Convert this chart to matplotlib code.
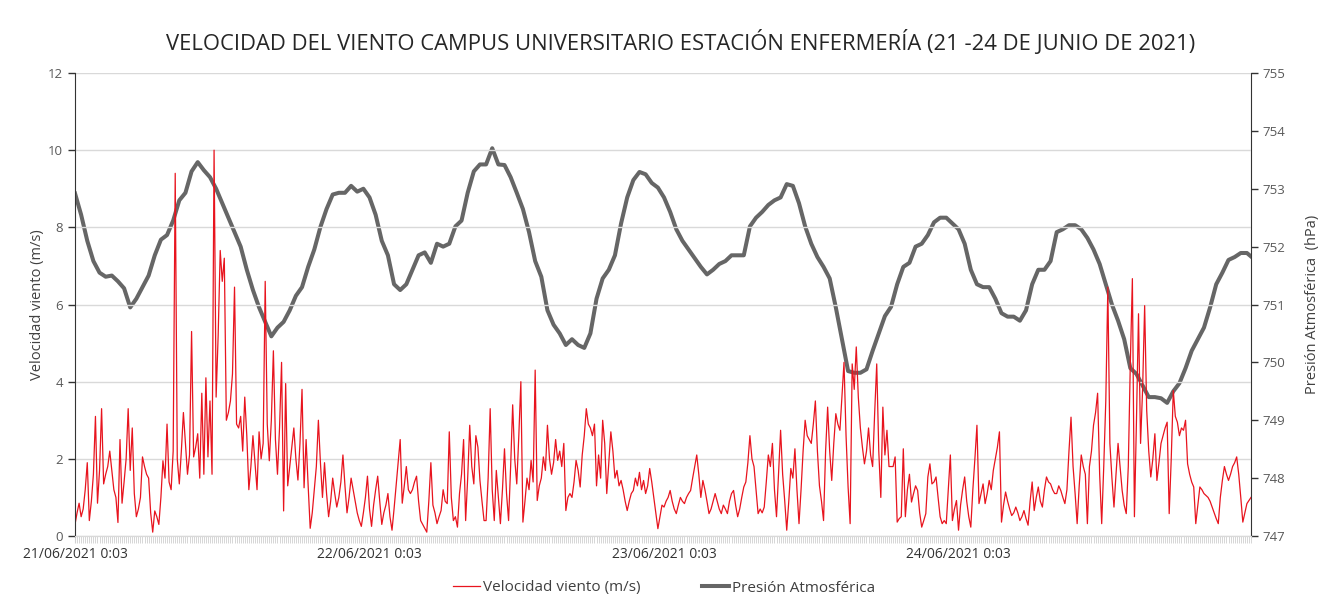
import matplotlib
matplotlib.use('Agg')
import matplotlib.pyplot as plt
import numpy as np
import pandas as pd

plt.rcParams['font.family'] = ['Open Sans', 'DejaVu Sans']

## Data
# wind speed (m/s), one value every 10 minutes, 144 values per day
wind_d21 = [0.3, 0.6, 0.85, 0.5, 0.7, 1.2, 1.9, 0.4, 0.9, 1.6, 3.1, 0.85,
            1.7, 3.3, 1.35, 1.6, 1.8, 2.2, 1.7, 1.2, 1.0, 0.35, 2.5, 0.85,
            1.4, 2.0, 3.3, 1.7, 2.8, 1.1, 0.5, 0.7, 1.0, 2.05, 1.8, 1.6,
            1.5, 0.6, 0.1, 0.65, 0.5, 0.3, 1.0, 1.95, 1.5, 2.9, 1.4, 1.2,
            2.2, 9.4, 2.0, 1.35, 2.2, 3.2, 2.4, 1.6, 2.1, 5.3, 2.05, 2.3,
            2.65, 1.5, 3.7, 1.6, 4.1, 2.05, 3.5, 1.6, 10.0, 3.6, 5.2, 7.4,
            6.6, 7.2, 3.0, 3.2, 3.5, 4.2, 6.45, 2.9, 2.8, 3.1, 2.2, 3.6,
            2.6, 1.2, 1.8, 2.6, 1.9, 1.2, 2.7, 2.0, 2.4, 6.6, 2.9, 1.95,
            3.0, 4.8, 2.5, 1.6, 2.8, 4.5, 0.65, 3.95, 1.3, 1.8, 2.3, 2.8,
            2.0, 1.45, 2.4, 3.8, 1.25, 2.5, 1.3, 0.2, 0.6, 1.2, 1.8, 3.0,
            1.9, 1.0, 1.9, 1.1, 0.5, 0.9, 1.5, 1.1, 0.75, 1.0, 1.4, 2.1,
            1.3, 0.6, 1.0, 1.5, 1.2, 0.9, 0.6, 0.4, 0.25, 0.6, 1.0, 1.55]
wind_d22 = [0.7, 0.25, 0.8, 1.2, 1.55, 0.9, 0.3, 0.6, 0.8, 1.1, 0.5, 0.15,
            0.7, 1.3, 1.9, 2.5, 0.85, 1.3, 1.8, 1.2, 1.1, 1.2, 1.4, 1.55,
            0.9, 0.4, 0.3, 0.2, 0.1, 0.9, 1.9, 0.8, 0.6, 0.32, 0.5, 0.66,
            1.2, 0.9, 0.84, 2.7, 1.0, 0.4, 0.5, 0.23, 1.1, 1.6, 2.5, 0.4,
            1.5, 2.87, 1.8, 1.35, 2.6, 2.3, 1.44, 0.9, 0.4, 0.4, 1.5, 3.3,
            1.2, 0.4, 1.7, 1.0, 0.32, 1.2, 2.26, 1.1, 0.4, 1.8, 3.4, 2.0,
            1.35, 2.6, 4.0, 0.36, 0.9, 1.5, 1.2, 1.96, 1.4, 4.3, 0.92, 1.3,
            1.5, 2.05, 1.7, 2.87, 2.0, 1.6, 1.9, 2.5, 1.96, 2.2, 1.8, 2.4,
            0.66, 1.0, 1.1, 1.0, 1.4, 1.96, 1.7, 1.27, 2.1, 2.6, 3.3, 2.9,
            2.8, 2.6, 2.9, 1.3, 2.1, 1.5, 3.0, 2.4, 1.1, 1.9, 2.7, 2.2,
            1.5, 1.7, 1.3, 1.44, 1.2, 0.9, 0.66, 0.9, 1.1, 1.18, 1.5, 1.3,
            1.65, 1.2, 1.44, 1.1, 1.3, 1.75, 1.4, 1.0, 0.6, 0.19, 0.5, 0.8]
wind_d23 = [0.75, 0.9, 1.0, 1.18, 0.9, 0.7, 0.58, 0.8, 1.0, 0.9, 0.84, 1.0,
            1.1, 1.18, 1.5, 1.8, 2.1, 1.6, 1.0, 1.44, 1.2, 0.9, 0.58, 0.7,
            0.9, 1.1, 0.9, 0.7, 0.58, 0.8, 0.7, 0.58, 0.9, 1.1, 1.18, 0.8,
            0.5, 0.7, 1.0, 1.27, 1.4, 1.9, 2.6, 2.0, 1.8, 1.2, 0.58, 0.7,
            0.6, 0.75, 1.4, 2.1, 1.8, 2.4, 1.2, 0.5, 1.6, 2.74, 1.6, 0.92,
            0.15, 0.9, 1.75, 1.5, 2.26, 1.2, 0.32, 1.2, 2.2, 3.0, 2.6, 2.5,
            2.4, 2.9, 3.5, 2.2, 1.3, 0.9, 0.4, 2.2, 3.34, 2.2, 1.44, 2.4,
            3.17, 2.9, 2.74, 3.6, 4.5, 2.6, 1.27, 0.32, 4.46, 3.8, 4.9, 3.6,
            2.8, 2.3, 1.87, 2.2, 2.8, 2.1, 1.8, 3.2, 4.46, 2.2, 1.0, 3.34,
            2.1, 2.74, 1.8, 1.8, 1.8, 2.05, 0.36, 0.45, 0.5, 2.26, 0.5, 1.2,
            1.6, 0.88, 1.1, 1.3, 1.18, 0.6, 0.23, 0.4, 0.58, 1.53, 1.87, 1.35,
            1.4, 1.53, 1.0, 0.5, 0.32, 0.4, 0.32, 1.2, 2.1, 0.4, 0.7, 0.92]
wind_d24 = [0.15, 0.8, 1.2, 1.53, 0.9, 0.5, 0.23, 1.2, 2.0, 2.87, 0.84, 1.1,
            1.35, 0.84, 1.1, 1.44, 1.2, 1.7, 2.0, 2.3, 2.7, 0.36, 0.8, 1.14,
            0.9, 0.7, 0.53, 0.6, 0.75, 0.6, 0.4, 0.5, 0.66, 0.45, 0.28, 0.9,
            1.4, 0.66, 1.0, 1.27, 0.9, 0.75, 1.2, 1.53, 1.4, 1.35, 1.2, 1.1,
            1.1, 1.3, 1.18, 1.0, 0.84, 1.2, 2.2, 3.08, 1.8, 1.1, 0.32, 1.3,
            2.1, 1.8, 1.6, 0.32, 1.8, 2.2, 2.87, 3.2, 3.7, 1.6, 0.32, 1.8,
            3.5, 6.45, 2.4, 1.5, 0.75, 1.6, 2.4, 1.8, 1.18, 0.8, 0.58, 1.8,
            4.5, 6.67, 0.5, 3.0, 5.76, 2.4, 3.8, 5.97, 3.26, 2.2, 1.53, 2.0,
            2.65, 1.44, 1.9, 2.4, 2.6, 2.8, 2.95, 0.58, 2.0, 3.77, 3.1, 2.95,
            2.6, 2.8, 2.74, 3.0, 1.87, 1.6, 1.4, 1.27, 0.32, 0.8, 1.27, 1.2,
            1.1, 1.05, 1.0, 0.9, 0.75, 0.6, 0.45, 0.32, 1.0, 1.44, 1.8, 1.6,
            1.44, 1.6, 1.8, 1.9, 2.05, 1.6, 1.0, 0.36, 0.6, 0.84, 0.92, 1.0]

# atmospheric pressure (hPa), every 30 minutes
pressure = [752.92, 752.55, 752.1, 751.75, 751.55, 751.48, 751.5, 751.4, 751.28, 750.95,
            751.1, 751.3, 751.5, 751.85, 752.12, 752.2, 752.45, 752.8, 752.93, 753.3,
            753.46, 753.32, 753.2, 753.0, 752.75, 752.5, 752.25, 752.0, 751.6, 751.25,
            750.95, 750.7, 750.45, 750.6, 750.7, 750.9, 751.15, 751.3, 751.65, 751.95,
            752.34, 752.65, 752.9, 752.93, 752.93, 753.05, 752.95, 753.0, 752.85, 752.55,
            752.1, 751.85, 751.35, 751.25, 751.35, 751.6, 751.85, 751.9, 751.72, 752.05,
            752.0, 752.05, 752.35, 752.45, 752.93, 753.3, 753.42, 753.42, 753.7, 753.42,
            753.41, 753.2, 752.93, 752.65, 752.25, 751.75, 751.48, 750.9, 750.65, 750.5,
            750.3, 750.4, 750.3, 750.25, 750.5, 751.1, 751.45, 751.6, 751.85, 752.4,
            752.85, 753.15, 753.29, 753.25, 753.1, 753.02, 752.85, 752.6, 752.3, 752.1,
            751.95, 751.8, 751.65, 751.52, 751.6, 751.7, 751.75, 751.85, 751.85, 751.85,
            752.35, 752.5, 752.6, 752.72, 752.8, 752.85, 753.08, 753.05, 752.75, 752.35,
            752.05, 751.82, 751.65, 751.45, 750.95, 750.4, 749.85, 749.82, 749.82, 749.88,
            750.2, 750.5, 750.8, 750.96, 751.35, 751.65, 751.72, 752.0, 752.05, 752.2,
            752.42, 752.5, 752.5, 752.4, 752.3, 752.05, 751.6, 751.35, 751.3, 751.3,
            751.1, 750.85, 750.79, 750.79, 750.72, 750.9, 751.35, 751.6, 751.6, 751.75,
            752.25, 752.3, 752.37, 752.37, 752.3, 752.15, 751.95, 751.7, 751.35, 751.0,
            750.72, 750.4, 749.9, 749.8, 749.6, 749.4, 749.4, 749.38, 749.3, 749.5,
            749.64, 749.9, 750.2, 750.4, 750.6, 750.95, 751.35, 751.55, 751.77, 751.82,
            751.89, 751.89, 751.8]

day_labels = ['21/06/2021 0:03', '22/06/2021 0:03', '23/06/2021 0:03', '24/06/2021 0:03']

wind = wind_d21 + wind_d22 + wind_d23 + wind_d24
t_wind = pd.date_range('2021-06-21 00:03', periods=len(wind), freq='10min')
t_pres = pd.date_range('2021-06-21 00:03', periods=len(pressure), freq='30min')
day_ticks = pd.date_range('2021-06-21 00:03', periods=len(day_labels), freq='D')

## Plotting
fig = plt.figure(figsize=(13.33, 6.05), dpi=100)
ax = fig.add_axes([75/1333, 1-536/605, (1251-75)/1333, (536-73)/605])
ax2 = ax.twinx()

ax.plot(t_wind, wind, color='#e8141e', lw=0.9, label='Velocidad viento (m/s)')
ax2.plot(t_pres, pressure, color='#666666', lw=2.9, label='Presión Atmosférica')

# red series drawn above the gray one
ax.set_zorder(ax2.get_zorder() + 1)
ax.patch.set_visible(False)

ax.set_xlim(t_wind[0], t_wind[-1])
ax.set_ylim(0, 12)
ax.set_yticks(np.arange(0, 13, 2))
ax2.set_ylim(747, 755)
ax2.set_yticks(np.arange(747, 756, 1))

ax.set_xticks(day_ticks)
ax.set_xticklabels(day_labels)
ax.set_xticks(t_wind, minor=True)

ax.grid(axis='y', color='#d9d9d9', lw=1)
ax.set_axisbelow(True)

for a in (ax, ax2):
    a.spines['top'].set_visible(False)
    a.spines['bottom'].set_color('#d9d9d9')
ax.spines['left'].set_color('#333333')
ax.spines['right'].set_visible(False)
ax2.spines['left'].set_visible(False)
ax2.spines['right'].set_color('#333333')

ax.tick_params(axis='y', colors='#333333', labelcolor='#595959', labelsize=9.5, length=5, width=1)
ax2.tick_params(axis='y', colors='#333333', labelcolor='#595959', labelsize=9.5, length=5, width=1)
ax.tick_params(axis='x', which='major', color='#d0d0d0', labelcolor='#333333', labelsize=10, length=5, pad=3)
ax.tick_params(axis='x', which='minor', color='#d0d0d0', length=5, width=0.6)

ax.set_ylabel('Velocidad viento (m/s)', fontsize=10.5, color='#404040', labelpad=2)
ax2.set_ylabel('Presión Atmosférica  (hPa)', fontsize=10.5, color='#404040', labelpad=14)

fig.text(681/1333, 1-42/605, 'VELOCIDAD DEL VIENTO CAMPUS UNIVERSITARIO ESTACIÓN ENFERMERÍA (21 -24 DE JUNIO DE 2021)',
         ha='center', va='center', fontsize=15.8, color='#262626')

h1, l1 = ax.get_legend_handles_labels()
h2, l2 = ax2.get_legend_handles_labels()
fig.legend(h1 + h2, l1 + l2, loc='center', bbox_to_anchor=(664/1333, 1-588/605), ncol=2,
           frameon=False, fontsize=11, handlelength=1.8, handletextpad=0.2, columnspacing=4.0,
           labelcolor='#404040')

fig.savefig('out.png', dpi=100)
